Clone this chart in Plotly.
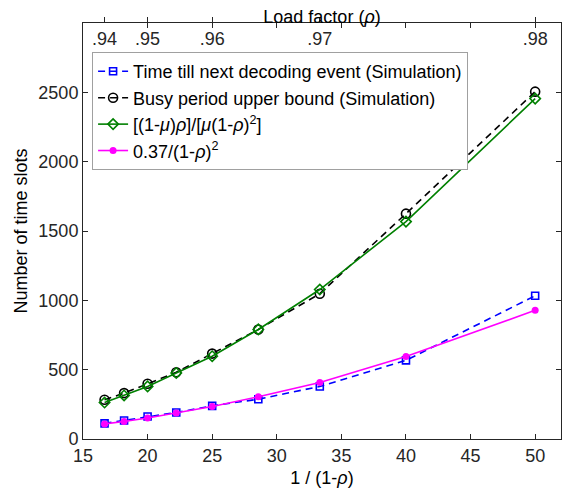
import plotly.graph_objects as go

# x positions: 1/(1-rho) for rho = .94, .945, ..., .98
x_vals = [16.67, 18.18, 20.0, 22.22, 25.0, 28.57, 33.33, 40.0, 50.0]
decoding_sim = [113, 133, 162, 191, 239, 287, 379, 567, 1033]
busy_sim = [283, 331, 398, 481, 616, 790, 1048, 1625, 2505]
analytic = [263, 314, 379, 476, 597, 790, 1078, 1568, 2455]
approx = [109, 126, 152, 188, 234, 305, 408, 595, 928]

top_rho = [0.94, 0.95, 0.96, 0.97, 0.98]
top_labels = [".94", ".95", ".96", ".97", ".98"]
bottom_ticks = [15, 20, 25, 30, 35, 40, 45, 50]
y_ticks = [0, 500, 1000, 1500, 2000, 2500, 3000]

names = [
    "Time till next decoding event (Simulation)",
    "Busy period upper bound (Simulation)",
    "[(1-<i>μ</i>)<i>ρ</i>]/[<i>μ</i>(1-<i>ρ</i>)<sup>2</sup>]",
    "0.37/(1-<i>ρ</i>)<sup>2</sup>",
]

FONT = "Liberation Sans, Arial, sans-serif"
AX = "#262626"
FS = 18

fig = go.Figure()
fig.add_trace(go.Scatter(
    x=x_vals, y=decoding_sim, name=names[0], mode="lines+markers",
    line=dict(color="#0000FF", width=1.6, dash="7px,5px"),
    marker=dict(symbol="square-open", size=7, color="#0000FF", line=dict(width=1.6)),
))
fig.add_trace(go.Scatter(
    x=x_vals, y=busy_sim, name=names[1], mode="lines+markers",
    line=dict(color="#000000", width=1.6, dash="7px,5px"),
    marker=dict(symbol="circle-open", size=9, color="#000000", line=dict(width=1.6)),
))
fig.add_trace(go.Scatter(
    x=x_vals, y=analytic, name=names[2], mode="lines+markers",
    line=dict(color="#008000", width=1.6),
    marker=dict(symbol="diamond-open", size=8, color="#008000", line=dict(width=1.6)),
))
fig.add_trace(go.Scatter(
    x=x_vals, y=approx, name=names[3], mode="lines+markers",
    line=dict(color="#FF00FF", width=1.6),
    marker=dict(symbol="circle", size=7, color="#FF00FF"),
))
# helper trace for the top (load factor) axis
top_pos = [1.0 / (1.0 - r) for r in top_rho]
fig.add_trace(go.Scatter(
    x=top_pos, y=[None] * len(top_pos), xaxis="x2", mode="markers",
    showlegend=False, hoverinfo="skip",
))

fig.update_layout(
    width=566, height=495,
    margin=dict(l=83, r=5, t=23, b=56),
    paper_bgcolor="white", plot_bgcolor="white",
    font=dict(family=FONT, size=FS, color="#000000"),
    showlegend=True,
    legend=dict(
        x=0.019, y=0.93, xanchor="left", yanchor="top",
        bgcolor="white", bordercolor="#a0a0a0", borderwidth=1,
        font=dict(family=FONT, size=FS, color="#000000"),
        tracegroupgap=0, itemwidth=30,
    ),
    xaxis=dict(
        range=[15, 52], tickvals=bottom_ticks, ticks="inside", ticklen=5,
        tickcolor=AX, showline=True, linecolor=AX, linewidth=1, mirror="ticks",
        showgrid=False, zeroline=False, automargin=False,
        tickfont=dict(size=FS, color="#262626"),
        title=dict(text="1 / (1-<i>ρ</i>)", font=dict(size=FS), standoff=6),
    ),
    xaxis2=dict(
        overlaying="x", side="top", anchor="y", range=[15, 52],
        tickvals=top_pos, ticktext=top_labels, ticks="outside", ticklen=5,
        tickcolor=AX, ticklabelposition="inside", ticklabelstandoff=6,
        showgrid=False, zeroline=False,
        showline=False, tickfont=dict(size=FS, color="#262626"),
        title=dict(text="Load factor (<i>ρ</i>)", font=dict(size=FS), standoff=0),
        automargin=False,
    ),
    yaxis=dict(
        range=[0, 3000], tickvals=y_ticks, ticks="inside", ticklen=5,
        tickcolor=AX, showline=True, linecolor=AX, linewidth=1, mirror="ticks",
        showgrid=False, zeroline=False, automargin=False,
        tickfont=dict(size=FS, color="#262626"),
        title=dict(text="Number of time slots", font=dict(size=FS), standoff=6),
    ),
)

fig.write_html("out.html")
